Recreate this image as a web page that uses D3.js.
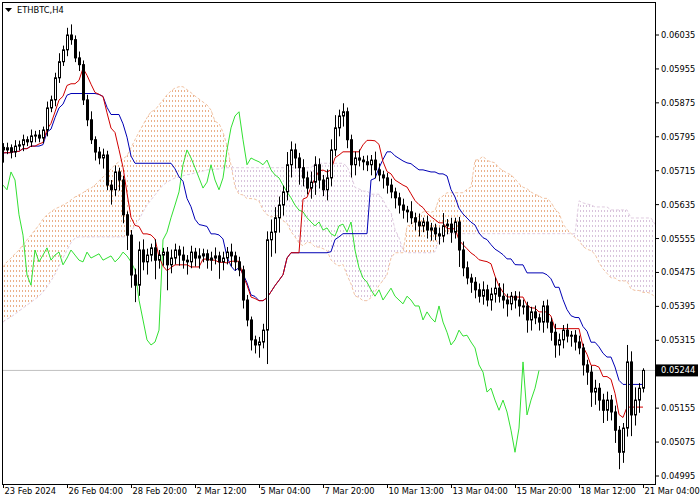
<!DOCTYPE html>
<html>
<head>
<meta charset="utf-8">
<script src="https://cdn.jsdelivr.net/npm/d3@7"></script>
<style>
  body { margin: 0; background: #fff; }
  text { font-family: "DejaVu Sans", sans-serif; font-size: 8.3px; }
</style>
</head>
<body>
<div id="chart"></div>
<script>
// prices in points (x 1e-5)
var closes = [5764,5769,5759,5773,5776,5788,5783,5797,5799,5792,
  5811,5863,5882,5934,5972,6000,6035,6024,5981,5965,
  5882,5835,5788,5759,5745,5752,5681,5670,5712,5693,
  5611,5563,5469,5445,5528,5500,5516,5533,5504,5516,
  5523,5493,5509,5528,5516,5504,5500,5523,5509,5514,
  5519,5504,5509,5514,5500,5509,5523,5514,5500,5481,
  5410,5363,5316,5304,5311,5339,5552,5570,5604,5634,
  5665,5729,5764,5745,5722,5698,5674,5688,5729,5693,
  5670,5698,5764,5816,5844,5854,5788,5729,5745,5740,
  5736,5729,5740,5717,5705,5698,5681,5665,5651,5634,
  5622,5618,5604,5594,5585,5594,5575,5580,5566,5561,
  5585,5589,5570,5594,5528,5486,5462,5452,5434,5419,
  5434,5410,5424,5438,5419,5410,5401,5419,5410,5396,
  5396,5363,5382,5368,5358,5396,5358,5334,5304,5316,
  5339,5325,5327,5311,5297,5257,5240,5193,5202,5174,
  5150,5174,5146,5103,5051,5108,5264,5139,5174,5202,5244];
var firstOpen = 5770;
var upperWick = [10,12,8,14,10,12,8,15,10,12, 8,15,10,12,20,10,17,25,10,15,
  10,12,20,8,12,15,10,12,15,10, 10,8,12,15,20,25,15,10,20,12,
  10,12,20,15,10,20,12,15,10,18, 12,10,15,20,10,15,12,20,10,12,
  10,12,8,10,12,15,20,30,25,20, 15,30,20,15,12,20,15,25,20,15,
  12,20,25,30,15,20,10,12,15,20, 10,15,12,20,15,10,12,15,10,12,
  15,10,25,12,20,10,15,12,10,15, 30,12,15,10,12,20,15,10,12,15,
  20,12,15,25,12,30,15,10,12,20, 15,10,12,15,10,12,15,10,20,15,
  12,15,10,12,15,10,12,15,20,12, 15,20,12,15,10,12,40,25,30,12,5];
var lowerWick = [30,10,15,12,10,15,10,12,15,10, 12,15,10,15,12,10,15,12,10,15,
  12,15,10,20,15,25,12,35,15,25, 20,35,30,40,25,20,30,15,45,20,
  25,60,20,15,25,20,30,15,20,25, 15,20,25,15,40,20,15,25,20,15,
  20,15,25,20,30,15,80,40,50,35, 25,20,30,25,40,20,15,25,30,20,
  15,25,20,15,20,25,20,30,25,15, 20,15,25,20,15,25,20,15,25,20,
  20,25,15,20,25,15,20,25,15,20, 15,20,25,15,40,20,15,25,20,15,
  20,15,25,20,15,20,30,15,20,25, 20,30,25,15,20,25,15,20,30,25,
  20,15,25,20,15,25,30,35,30,25, 30,25,20,30,40,25,20,50,25,30,10];
// cloud spans that depend on bars before the visible window
var spanAEarly = [5488,5500,5509,5519,5528,5540,5552,5563,5575,5587,
  5601,5611,5618,5625,5629,5634,5639,5646,5653,5658,
  5663,5670,5674,5681,5691,5700,5710,5719,5729,5736,
  5743,5750,5769,5788,5806,5823,5840,5854,5858,5870,
  5882,5894,5903,5910,5913,5913,5906,5899,5891,5884,5877,5870];
var spanBEarly = [5358,5365,5370,5377,5384,5391,5398,5405,5412,5419,
  5429,5441,5455,5471,5490,5509,5528,5545,5556,5559,
  5559,5559,5559,5559,5559,5559,5559,5559,5559,5559,
  5559,5559,5570,5587,5599,5618,5634,5646,5658,5670,
  5681,5688,5693,5698,5700,5703,5705,5707,5710,5712,
  5714,5717,5717,5719,5719,5722,5722,5722,5722,5722,
  5722,5722,5722,5722,5722,5722,5722,5722,5722,5722,
  5722,5722,5722,5722,5722,5722,5722,5722];
var priceTicks = [0.06035,0.05955,0.05875,0.05795,0.05715,0.05635,0.05555,0.05475,0.05395,0.05315,0.05155,0.05075,0.04995];
var dateLabels = ["23 Feb 2024","26 Feb 04:00","28 Feb 20:00","2 Mar 12:00","5 Mar 04:00","7 Mar 20:00","10 Mar 13:00","13 Mar 04:00","15 Mar 20:00","18 Mar 12:00","21 Mar 04:00"];
var currentPrice = 0.05244;

var W = 700, H = 500, pLeft = 2, pRight = 655, pTop = 2, pBottom = 484;
var n = closes.length;

var bars = closes.map(function (c, i) {
  var o = i === 0 ? firstOpen : closes[i - 1];
  return {
    i: i, o: o / 1e5, c: c / 1e5,
    h: (Math.max(o, c) + upperWick[i]) / 1e5,
    l: (Math.min(o, c) - lowerWick[i]) / 1e5
  };
});

var x = d3.scaleLinear().domain([0, n - 1]).range([3, 643]);
var y = d3.scaleLinear().domain([0.04995, 0.06035]).range([476, 35]);

function mid(end, len) {
  var s = bars.slice(Math.max(0, end - len + 1), end + 1);
  return (d3.max(s, function (d) { return d.h; }) + d3.min(s, function (d) { return d.l; })) / 2;
}
var tenkan = bars.map(function (d, i) { return mid(i, 9); });
var kijun = bars.map(function (d, i) { return mid(i, 26); });

var cloud = [];
for (var i = 0; i < n + 26; i++) {
  var s = i - 26;
  var a = i < spanAEarly.length ? spanAEarly[i] / 1e5 : (tenkan[s] + kijun[s]) / 2;
  var b = i < spanBEarly.length ? spanBEarly[i] / 1e5 : mid(s, 52);
  cloud.push({ i: i, a: a, b: b });
}

var svg = d3.select("#chart").append("svg").attr("width", W).attr("height", H);
var defs = svg.append("defs");
function pat(id, col) {
  var p = defs.append("pattern").attr("id", id).attr("patternUnits", "userSpaceOnUse")
    .attr("width", 3).attr("height", 5);
  p.append("rect").attr("x", 1).attr("y", 0).attr("width", 1).attr("height", 2).attr("fill", col);
}
pat("pUp", "#eab08a");
pat("pDn", "#d9c3dc");
defs.append("clipPath").attr("id", "plot").append("rect")
  .attr("x", pLeft).attr("y", pTop).attr("width", pRight - pLeft).attr("height", pBottom - pTop);

var g = svg.append("g").attr("clip-path", "url(#plot)");

// cloud
g.append("path").datum(cloud).attr("fill", "url(#pUp)")
  .attr("d", d3.area().x(function (d) { return x(d.i); })
    .y0(function (d) { return y(d.b); }).y1(function (d) { return y(Math.max(d.a, d.b)); }));
g.append("path").datum(cloud).attr("fill", "url(#pDn)")
  .attr("d", d3.area().x(function (d) { return x(d.i); })
    .y0(function (d) { return y(d.a); }).y1(function (d) { return y(Math.max(d.a, d.b)); }));
g.append("path").datum(cloud).attr("fill", "none").attr("stroke", "#f2c4a4").attr("stroke-dasharray", "3,2")
  .attr("d", d3.line().x(function (d) { return x(d.i); }).y(function (d) { return y(d.a); }));
g.append("path").datum(cloud).attr("fill", "none").attr("stroke", "#e0cce0").attr("stroke-dasharray", "3,2")
  .attr("d", d3.line().x(function (d) { return x(d.i); }).y(function (d) { return y(d.b); }));

// current price line
g.append("line").attr("x1", pLeft).attr("x2", pRight).attr("y1", y(currentPrice)).attr("y2", y(currentPrice))
  .attr("stroke", "#c0c0c0");

// lines
function drawLine(vals, col, shift) {
  g.append("path").datum(vals).attr("fill", "none").attr("stroke", col).attr("stroke-width", 1)
    .attr("d", d3.line().x(function (d, i) { return x(i + shift); }).y(function (d) { return y(d); }));
}
drawLine(closes.slice(26).map(function (c) { return c / 1e5; }), "#32e032", 0);
drawLine(kijun, "#0000b4", 0);
drawLine(tenkan, "#d00000", 0);

// candles
var cg = g.selectAll(".bar").data(bars).enter().append("g");
cg.append("line").attr("x1", function (d) { return Math.round(x(d.i)) + 0.5; })
  .attr("x2", function (d) { return Math.round(x(d.i)) + 0.5; })
  .attr("y1", function (d) { return y(d.h); }).attr("y2", function (d) { return y(d.l); })
  .attr("stroke", "#000");
cg.append("rect").attr("x", function (d) { return Math.round(x(d.i)) - 0.5; })
  .attr("y", function (d) { return y(Math.max(d.o, d.c)); })
  .attr("width", 2)
  .attr("height", function (d) { return Math.max(1, y(Math.min(d.o, d.c)) - y(Math.max(d.o, d.c))); })
  .attr("fill", function (d) { return d.c >= d.o ? "#fff" : "#000"; })
  .attr("stroke", "#000");

// frame
svg.append("rect").attr("x", pLeft + 0.5).attr("y", pTop + 0.5).attr("width", pRight - pLeft).attr("height", pBottom - pTop)
  .attr("fill", "none").attr("stroke", "#000");

// price axis
priceTicks.forEach(function (p) {
  svg.append("line").attr("x1", pRight).attr("x2", pRight + 4).attr("y1", y(p)).attr("y2", y(p)).attr("stroke", "#000");
  svg.append("text").attr("x", pRight + 6).attr("y", y(p) + 3).text(p.toFixed(5));
});
svg.append("rect").attr("x", pRight + 1).attr("y", y(currentPrice) - 6).attr("width", 42).attr("height", 12).attr("fill", "#000");
svg.append("text").attr("x", pRight + 6).attr("y", y(currentPrice) + 3).attr("fill", "#fff").text(currentPrice.toFixed(5));

// date axis
dateLabels.forEach(function (t, k) {
  var xx = Math.round(x(k * 16)) + 0.5;
  svg.append("line").attr("x1", xx).attr("x2", xx).attr("y1", pBottom).attr("y2", pBottom + 4).attr("stroke", "#000");
  svg.append("text").attr("x", xx + 1).attr("y", 494).text(t);
});

// title
svg.append("path").attr("d", "M5,8 L12,8 L8.5,12 Z").attr("fill", "#000");
svg.append("text").attr("x", 17).attr("y", 13).text("ETHBTC,H4");
</script>
</body>
</html>
